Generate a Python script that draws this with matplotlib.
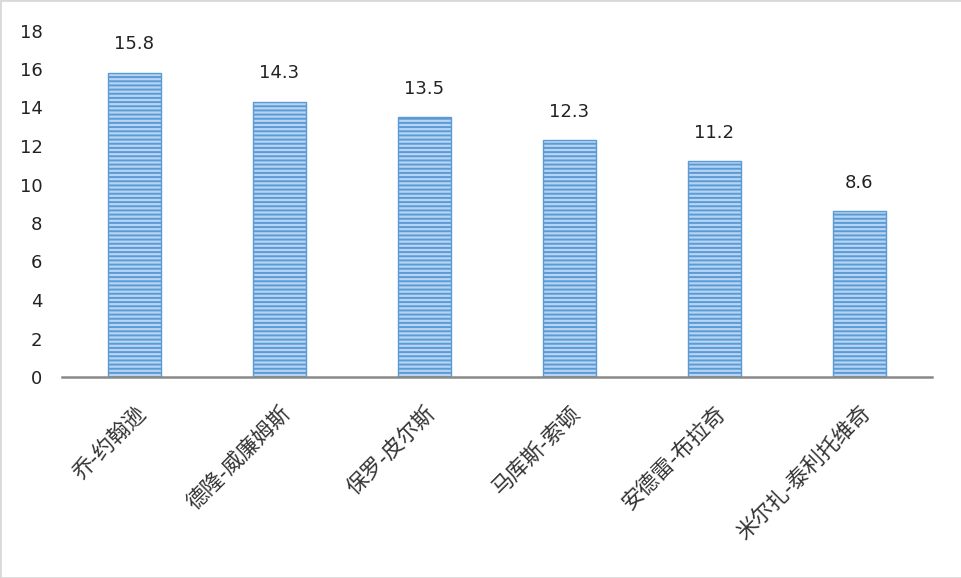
import matplotlib
matplotlib.use("Agg")
import matplotlib.pyplot as plt
import matplotlib.transforms as mtransforms
from matplotlib.patches import Rectangle

plt.rcParams["font.family"] = ["DejaVu Sans", "Noto Sans CJK SC"]
plt.rcParams["hatch.linewidth"] = 1.4
plt.rcParams["hatch.color"] = "#4584CE"

players = ["乔-约翰逊", "德隆-威廉姆斯", "保罗-皮尔斯", "马库斯-索顿", "安德雷-布拉奇", "米尔扎-泰利托维奇"]
points = [15.8, 14.3, 13.5, 12.3, 11.2, 8.6]
yticks = [0, 2, 4, 6, 8, 10, 12, 14, 16, 18]

fig = plt.figure(figsize=(9.62, 5.78), dpi=100)
ax = fig.add_axes([62 / 962, 1 - 377 / 578, 870 / 962, (377 - 30.5) / 578])

x = list(range(len(players)))
bars = ax.bar(x, points, width=0.37, color="#B7D4F3", edgecolor="#5B9BD5",
              linewidth=1.0, hatch="----")

for b, v in zip(bars, points):
    ax.annotate(f"{v}", (b.get_x() + b.get_width() / 2, v), xytext=(0, 14),
                textcoords="offset points", ha="center", va="bottom",
                fontsize=13, color="#222222")

ax.set_xlim(-0.5, len(players) - 0.5)
ax.set_ylim(0, 18)
ax.set_yticks(yticks)
ax.set_xticks(x)
ax.set_xticklabels(players, rotation=45, ha="right", va="top",
                   rotation_mode="anchor", fontsize=15.5, color="#333333",
                   family=["Noto Sans CJK SC", "DejaVu Sans"])
offset = mtransforms.ScaledTranslation(2 / 100, 0, fig.dpi_scale_trans)
for lab in ax.get_xticklabels():
    lab.set_transform(lab.get_transform() + offset)

ax.tick_params(axis="x", length=0, pad=18)
ax.tick_params(axis="y", length=0, pad=14, labelsize=13, labelcolor="#222222")

for s in ["left", "right", "top"]:
    ax.spines[s].set_visible(False)
ax.spines["bottom"].set_color("#898989")
ax.spines["bottom"].set_linewidth(1.8)

fig.patches.append(Rectangle((0, 0), 1, 1, transform=fig.transFigure,
                             fill=False, edgecolor="#D9D9D9", linewidth=2))

fig.savefig("out.png", dpi=100)
